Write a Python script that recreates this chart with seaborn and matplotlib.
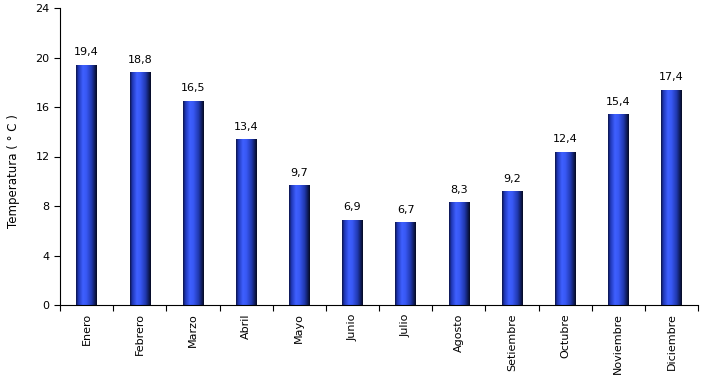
import numpy as np
import pandas as pd
import matplotlib
matplotlib.use("Agg")
import matplotlib.pyplot as plt
import seaborn as sns
from matplotlib.colors import LinearSegmentedColormap

months = ["Enero", "Febrero", "Marzo", "Abril", "Mayo", "Junio", "Julio",
          "Agosto", "Setiembre", "Octubre", "Noviembre", "Diciembre"]
temps = [19.4, 18.8, 16.5, 13.4, 9.7, 6.9, 6.7, 8.3, 9.2, 12.4, 15.4, 17.4]
yticks = [0, 4, 8, 12, 16, 20, 24]

sns.set_theme(style="white")
plt.rcParams['font.family'] = ['DejaVu Sans']

fig = plt.figure(figsize=(7.02, 3.85), dpi=100)
ax = fig.add_axes([60/702, 80/385, 638/702, 297/385])

df = pd.DataFrame({"mes": months, "t": temps})
sns.barplot(data=df, x="mes", y="t", ax=ax, color="#2f4fe8", width=0.38,
            saturation=1, linewidth=0)

cmap = LinearSegmentedColormap.from_list("cyl", [
    (0.0, "#0b1448"), (0.12, "#2038b8"), (0.33, "#3f60ff"),
    (0.5, "#3858f4"), (0.75, "#2038ae"), (0.9, "#0f1b58"), (1.0, "#05091f")])
grad = np.linspace(0, 1, 256).reshape(1, -1)
for p in ax.patches:
    x0, y0 = p.get_x(), p.get_y()
    w, h = p.get_width(), p.get_height()
    im = ax.imshow(grad, cmap=cmap, aspect="auto",
                   extent=[x0, x0 + w, y0, y0 + h], zorder=p.get_zorder() + 0.1)
    im.set_clip_path(p)

for i, v in enumerate(temps):
    ax.text(i, v + 0.6, f"{v:.1f}".replace(".", ","), ha="center", va="bottom",
            fontsize=8, color="black")

ax.set_xlim(-0.5, len(months) - 0.5)
ax.set_ylim(0, 24)
ax.set_yticks(yticks)
ax.set_yticklabels([str(t) for t in yticks], fontsize=8)
ax.set_xticks(range(len(months)))
ax.set_xticklabels(months, rotation=90, fontsize=8)
ax.tick_params(axis="x", length=0, pad=6, labelcolor="black")
ax.set_xticks(np.arange(-0.5, len(months), 1), minor=True)
ax.tick_params(axis="x", which="minor", length=4, direction="out", width=0.8,
               color="black", bottom=True)
ax.tick_params(axis="y", length=4, direction="out", width=0.8, color="black",
               left=True, labelcolor="black")
ax.set_xlabel("")
ax.set_ylabel("Temperatura ( ° C )", fontsize=8.5, color="black")
ax.yaxis.set_label_coords(-0.062, 0.45)
for s in ["top", "right"]:
    ax.spines[s].set_visible(False)
for s in ["left", "bottom"]:
    ax.spines[s].set_color("black")
    ax.spines[s].set_linewidth(0.8)

fig.savefig("out.png", dpi=100)
